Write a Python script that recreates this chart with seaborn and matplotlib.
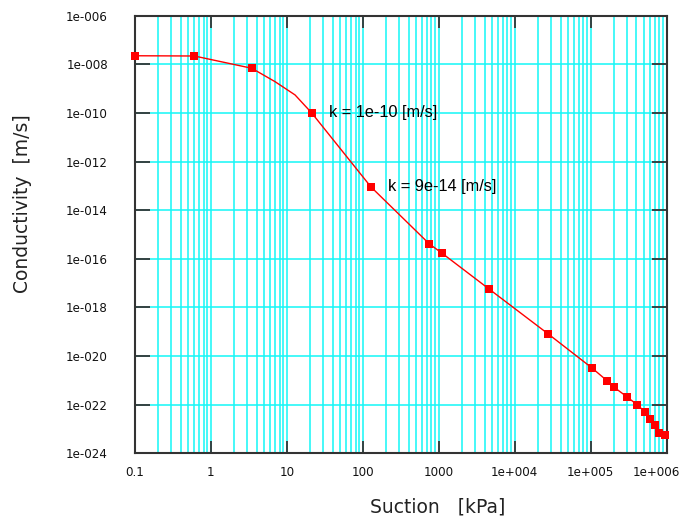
import numpy as np
import pandas as pd
import matplotlib
matplotlib.use("Agg")
import matplotlib.pyplot as plt
import matplotlib.transforms as mtransforms
from matplotlib.ticker import FixedLocator, FuncFormatter, NullFormatter
import seaborn as sns

# Hydraulic conductivity function: sampled points (markers)
suction_pts = [0.1, 0.604, 3.44, 21.2, 128, 750, 1102, 4540, 27700,
               1.03e5, 1.63e5, 2.05e5, 3.0e5, 4.07e5, 5.19e5, 6.04e5,
               6.96e5, 7.93e5, 9.5e5]
k_pts = [2.25e-8, 2.2e-8, 6.9e-9, 1e-10, 9e-14, 4.1e-16, 1.7e-16, 5.85e-18,
         8.0e-20, 3.3e-21, 9.8e-22, 5.1e-22, 2.1e-22, 1.0e-22, 5.0e-23,
         2.7e-23, 1.4e-23, 6.6e-24, 5.9e-24]

# extra curve samples between the markers
suction_mid = [6.97, 12.8]
k_mid = [1.94e-9, 5.5e-10]

# marker indices carrying a value label
labelled_idx = [3, 4]

x_major = [0.1, 1, 10, 100, 1000, 1e4, 1e5, 1e6]
y_major = [10.0 ** e for e in range(-24, -5, 2)]

pts = pd.DataFrame({"suction": suction_pts, "k": k_pts})
curve = pd.concat([pts, pd.DataFrame({"suction": suction_mid, "k": k_mid})])
curve = curve.sort_values("suction").reset_index(drop=True)

sns.set_style("white")
plt.rcParams["font.family"] = ["DejaVu Sans"]

fig = plt.figure(figsize=(6.8, 5.19), dpi=100)
ax = fig.add_axes([135 / 680, 1 - 453.3 / 519, 531.7 / 680, 437.6 / 519])

ax.set_xscale("log")
ax.set_yscale("log")
ax.set_xlim(0.1, 1e6)
ax.set_ylim(1e-24, 1e-6)

# grid: every 1..9 multiple on x, labelled decades on y
minor_x = [m * 10.0 ** e for e in range(-1, 6) for m in range(2, 10)]
ax.xaxis.set_major_locator(FixedLocator(x_major))
ax.xaxis.set_minor_locator(FixedLocator(minor_x))
ax.xaxis.set_minor_formatter(NullFormatter())
ax.yaxis.set_major_locator(FixedLocator(y_major))
ax.yaxis.set_minor_locator(FixedLocator([]))
ax.grid(True, which="both", axis="x", color="#14f7f7", lw=1.1)
ax.grid(True, which="major", axis="y", color="#14f7f7", lw=1.1)
ax.set_axisbelow(True)


def fmt_x(v, pos):
    if v < 1:
        return "0.1"
    e = int(round(np.log10(v)))
    if e <= 3:
        return str(int(round(v)))
    return f"1e+{e:03d}"


def fmt_y(v, pos):
    e = int(round(np.log10(v)))
    return f"1e-{abs(e):03d}"


ax.xaxis.set_major_formatter(FuncFormatter(fmt_x))
ax.yaxis.set_major_formatter(FuncFormatter(fmt_y))

ax.tick_params(axis="x", which="major", direction="in", length=8.8, width=1.3,
               color="#333333", top=True, bottom=True, labelsize=8.6, pad=9,
               labelcolor="#111111")
ax.tick_params(axis="y", which="major", direction="in", length=10.8, width=1.3,
               color="#333333", left=True, right=True, labelsize=8.6, pad=19.5,
               labelcolor="#111111")
ax.tick_params(axis="x", which="minor", length=0)

for s in ax.spines.values():
    s.set_color("#333333")
    s.set_linewidth(1.5)

sns.lineplot(data=curve, x="suction", y="k", ax=ax, color="#ff0000", lw=1.0,
             estimator=None, sort=False, zorder=3)
sns.scatterplot(data=pts, x="suction", y="k", ax=ax, marker="s", s=26,
                color="#ff0000", edgecolor="#ff0000", linewidth=0,
                zorder=4, clip_on=False)

for i in labelled_idx:
    ax.annotate(f"k = {k_pts[i]:.0e}".replace("e-0", "e-") + " [m/s]",
                xy=(suction_pts[i], k_pts[i]), xytext=(12.3, 0),
                textcoords="offset points", va="center", ha="left",
                fontsize=11.8, family=["Liberation Sans", "DejaVu Sans"],
                color="black", zorder=5)

ax.set_xlabel("Suction   [kPa]", fontsize=13.5, color="#222222")
ax.set_ylabel("Conductivity  [m/s]", fontsize=13.5, color="#222222")
ax.xaxis.label.set_va("center")
ax.yaxis.label.set_va("center")
ax.xaxis.set_label_coords(0.570, -0.123)
ax.yaxis.set_label_coords(-0.212, 0.571)

# keep the last x label inside the figure
fig.canvas.draw()
last = ax.get_xticklabels()[-1]
last.set_transform(last.get_transform()
                   + mtransforms.ScaledTranslation(-10 / 100, 0, fig.dpi_scale_trans))

fig.savefig("out.png", dpi=100)
